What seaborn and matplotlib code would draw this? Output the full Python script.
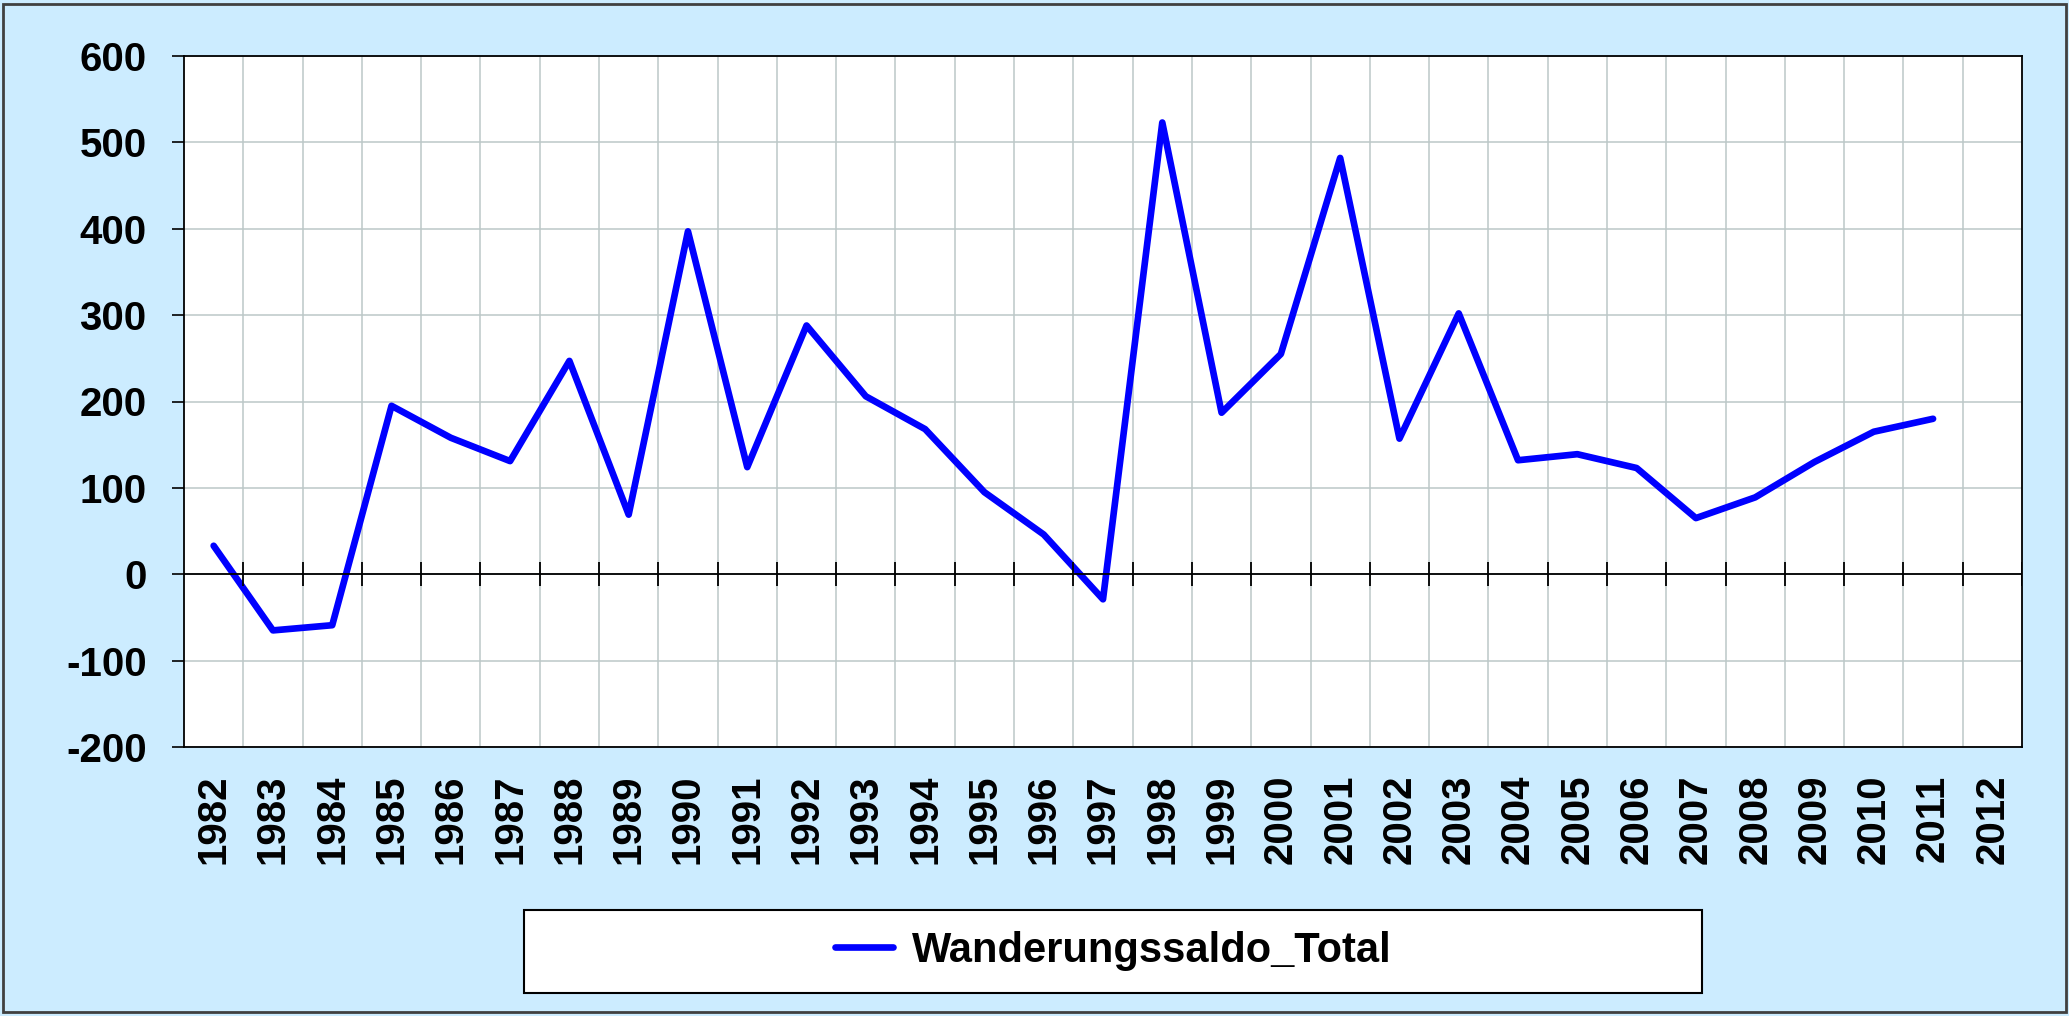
import numpy as np
import pandas as pd
import matplotlib
matplotlib.use("Agg")
import matplotlib.pyplot as plt
from matplotlib.patches import Rectangle
import seaborn as sns

# data
years = [str(y) for y in range(1982, 2013)]
saldo = [33, -65, -59, 195, 158, 131, 247, 69, 397, 124, 288, 206, 168, 95, 46,
         -29, 523, 187, 255, 482, 157, 302, 132, 139, 123, 65, 89, 130, 165, 180]
y_ticks = [-200, -100, 0, 100, 200, 300, 400, 500, 600]
series_name = "Wanderungssaldo_Total"

sns.set_style("white")
plt.rcParams['font.family'] = ['Liberation Sans', 'DejaVu Sans']
plt.rcParams['font.weight'] = 'bold'
plt.rcParams['text.color'] = 'black'
plt.rcParams['xtick.color'] = 'black'
plt.rcParams['ytick.color'] = 'black'

bg = "#CCECFF"
grid_col = "#BCC8C8"

df = pd.DataFrame({"pos": np.arange(len(saldo)), "value": saldo})

fig = plt.figure(figsize=(20.69, 10.16), dpi=100, facecolor=bg)
ax = fig.add_axes([184 / 2069, 1 - 747 / 1016, (2022 - 184) / 2069, (747 - 56) / 1016])
ax.set_facecolor("white")

sns.lineplot(data=df, x="pos", y="value", ax=ax, color="#0000FF", linewidth=4.8,
             label=series_name, legend=False)

ax.set_xlim(-0.5, len(years) - 0.5)
ax.set_ylim(-200, 600)

# category labels in the middle, grid lines on the boundaries
ax.set_xticks(np.arange(len(years)))
ax.set_xticklabels(years, rotation=90, fontsize=29, fontweight='bold')
ax.set_xticks(np.arange(0.5, len(years) - 1, 1), minor=True)
ax.tick_params(axis='x', which='both', length=0, pad=20)
ax.grid(axis='x', which='minor', color=grid_col, linewidth=1.1)
ax.grid(axis='x', which='major', visible=False)

ax.set_yticks(y_ticks)
ax.set_yticklabels([str(v) for v in y_ticks], fontsize=29, fontweight='bold')
ax.tick_params(axis='y', direction='out', length=9, width=1.2, pad=18, left=True)
ax.grid(axis='y', color=grid_col, linewidth=1.1)
ax.set_xlabel("")
ax.set_ylabel("")

for sp in ax.spines.values():
    sp.set_color("black")
    sp.set_linewidth(1.3)

# zero line with the category tick marks crossing it
ax.axhline(0, color="black", linewidth=1.3, zorder=3)
ax.vlines(np.arange(0.5, len(years), 1), -14, 14, color="black", linewidth=1.3, zorder=3)

# legend box drawn separately so the entry can sit in its middle
fig.patches.append(Rectangle((524 / 2069, 1 - 993 / 1016), (1702 - 524) / 2069, (993 - 910) / 1016,
                             transform=fig.transFigure, facecolor="white",
                             edgecolor="black", linewidth=1.5))
handles, labels = ax.get_legend_handles_labels()
leg = fig.legend(handles, labels, loc='center', bbox_to_anchor=(1113 / 2069, 1 - 951 / 1016),
                 frameon=False, handlelength=1.4, handletextpad=0.45,
                 prop={'weight': 'bold', 'size': 30})

fig.patches.append(Rectangle((3 / 2069, 4 / 1016), 1 - 6 / 2069, 1 - 8 / 1016,
                             transform=fig.transFigure, fill=False,
                             edgecolor="#404040", linewidth=2))

fig.savefig("out.png", dpi=100, facecolor=bg)
